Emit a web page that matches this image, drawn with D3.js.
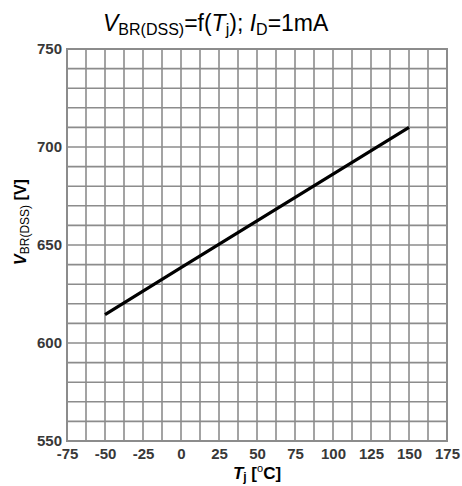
<!DOCTYPE html>
<html><head><meta charset="utf-8">
<script src="https://cdn.jsdelivr.net/npm/d3@7"></script>
<style>body{margin:0;background:#fff}svg{display:block}text{font-family:"Liberation Sans",Arial,sans-serif}</style>
</head><body><svg id="c" width="462" height="486"></svg>
<script>
const xTicks=[-75,-50,-25,0,25,50,75,100,125,150,175];
const yTicks=[550,600,650,700,750];
const tempC=[-50,0,50,100,150];
const vbr=[614.5,638.5,662.3,686.2,710];

const svg=d3.select("#c");
const L=67,R=447,T=49,B=441;
const x=d3.scaleLinear().domain([-75,175]).range([L,R]);
const y=d3.scaleLinear().domain([550,750]).range([B,T]);
const grid="#8c8c8c";
const g=svg.append("g");
g.selectAll(".vx").data(d3.range(-75,175.01,12.5)).enter().append("line")
 .attr("x1",d=>x(d)).attr("x2",d=>x(d)).attr("y1",T).attr("y2",B)
 .attr("stroke",grid).attr("stroke-width",1.6);
g.selectAll(".hy").data(d3.range(550,750.01,10)).enter().append("line")
 .attr("y1",d=>y(d)).attr("y2",d=>y(d)).attr("x1",L).attr("x2",R)
 .attr("stroke",grid).attr("stroke-width",1.6);
g.append("rect").attr("x",L).attr("y",T).attr("width",R-L).attr("height",B-T)
 .attr("fill","none").attr("stroke",grid).attr("stroke-width",2);

const fmt=d=>String(d);
const xa=svg.append("g").attr("transform",`translate(0,${B})`)
 .call(d3.axisBottom(x).tickValues(xTicks).tickSize(0).tickPadding(7).tickFormat(fmt));
xa.select(".domain").remove();
xa.selectAll("text").attr("font-size",15).attr("font-weight","bold").attr("fill","#383838")
 .style("font-family","'Liberation Sans',Arial,sans-serif");
const ya=svg.append("g").attr("transform",`translate(${L},0)`)
 .call(d3.axisLeft(y).tickValues(yTicks).tickSize(0).tickPadding(5).tickFormat(fmt));
ya.select(".domain").remove();
ya.selectAll("text").attr("font-size",15).attr("font-weight","bold").attr("fill","#383838")
 .style("font-family","'Liberation Sans',Arial,sans-serif");

svg.append("path").datum(tempC.map((t,i)=>[t,vbr[i]]))
 .attr("d",d3.line().x(d=>x(d[0])).y(d=>y(d[1])))
 .attr("fill","none").attr("stroke","#000").attr("stroke-width",3.2);

const tt=svg.append("text").attr("x",103).attr("y",31).attr("font-size",23).attr("fill","#000");
tt.append("tspan").attr("font-style","italic").text("V");
tt.append("tspan").attr("font-size",16).attr("dy",4).text("BR(DSS)");
tt.append("tspan").attr("dy",-4).text("=f(");
tt.append("tspan").attr("font-style","italic").text("T");
tt.append("tspan").attr("font-size",16).attr("dy",4).text("j");
tt.append("tspan").attr("dy",-4).text("); ");
tt.append("tspan").attr("font-style","italic").text("I");
tt.append("tspan").attr("font-size",16).attr("dy",4).text("D");
tt.append("tspan").attr("dy",-4).text("=1mA");

const yl=svg.append("text").attr("transform","translate(26,222) rotate(-90)")
 .attr("text-anchor","middle").attr("font-size",16).attr("font-weight","bold").attr("fill","#000");
yl.append("tspan").attr("font-style","italic").text("V");
yl.append("tspan").attr("font-size",12).attr("font-weight","normal").attr("dy",3).text("BR(DSS)");
yl.append("tspan").attr("dy",-3).text(" [V]");

const xl=svg.append("text").attr("x",257).attr("y",479)
 .attr("text-anchor","middle").attr("font-size",17).attr("font-weight","bold").attr("fill","#000");
xl.append("tspan").attr("font-style","italic").text("T");
xl.append("tspan").attr("font-size",12).attr("dy",2).text("j");
xl.append("tspan").attr("dy",-2).text(" [");
xl.append("tspan").attr("font-size",11).attr("font-weight","normal").attr("dy",-7).text("o");
xl.append("tspan").attr("dy",7).text("C]");
</script></body></html>
